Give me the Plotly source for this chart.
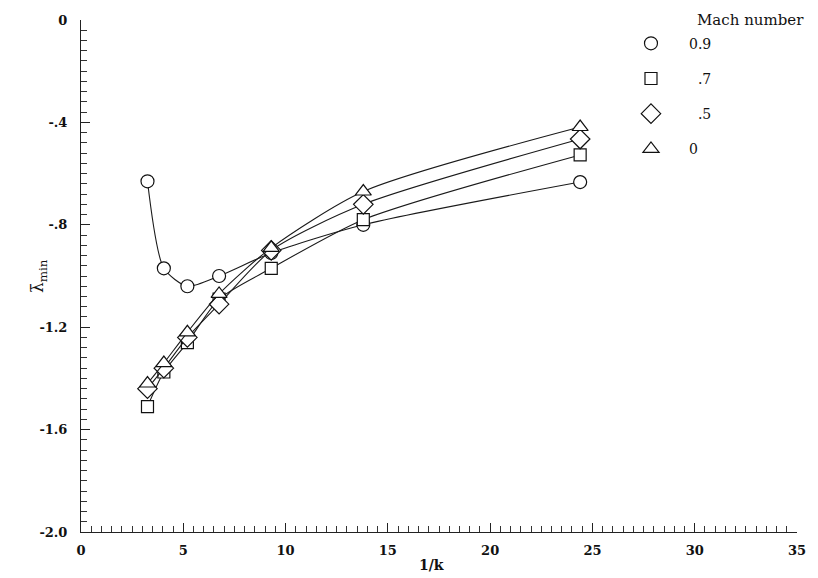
import plotly.graph_objects as go

# Reduced frequency parameter 1/k for each test point
inv_k = [3.25, 4.05, 5.2, 6.75, 9.3, 13.8, 24.4]

# Minimum eigenvalue lambda-bar_min for each Mach number
lam_m09 = [-0.63, -0.97, -1.04, -1.00, -0.91, -0.80, -0.633]
lam_m07 = [-1.51, -1.375, -1.26, -1.09, -0.97, -0.78, -0.527]
lam_m05 = [-1.44, -1.36, -1.24, -1.11, -0.90, -0.72, -0.465]
lam_m00 = [-1.42, -1.34, -1.22, -1.07, -0.89, -0.67, -0.418]

series = [
    ("0.9", lam_m09, "circle", 13),
    ("\u2007.7", lam_m07, "square", 12),
    ("\u2007.5", lam_m05, "diamond", 15),
    ("0", lam_m00, "triangle-up", 14),
]

y_tickvals = [0, -0.4, -0.8, -1.2, -1.6, -2.0]
y_ticktext = ["0", "-.4", "-.8", "-1.2", "-1.6", "-2.0"]
x_tickvals = [0, 5, 10, 15, 20, 25, 30, 35]

FONT = "DejaVu Serif"
INK = "#111111"

fig = go.Figure()
for i, (name, lam, sym, size) in enumerate(series):
    marker = dict(symbol=sym, size=size, color="white",
                  line=dict(color=INK, width=1.2))
    # faired curve through the test points
    fig.add_trace(go.Scatter(
        x=inv_k, y=lam, name=name, showlegend=False,
        mode="lines+markers",
        line=dict(color="#1a1a1a", width=1.1, shape="spline", smoothing=0.7),
        marker=marker,
    ))
    # symbol-only key entry
    fig.add_trace(go.Scatter(
        x=[None], y=[None], name=name, legendgroup=f"g{i}",
        mode="markers", marker=marker, showlegend=True,
    ))

fig.update_layout(
    width=818, height=578,
    margin=dict(l=81, r=21, t=20, b=46),
    paper_bgcolor="white", plot_bgcolor="white",
    font=dict(family=FONT, size=13, color=INK),
    showlegend=True,
    legend=dict(
        x=0.743, y=0.985, xanchor="left", yanchor="top",
        bgcolor="rgba(0,0,0,0)", tracegroupgap=14,
        traceorder="grouped",
        font=dict(family=FONT, size=14, color=INK),
        itemwidth=66,
    ),
    annotations=[
        dict(text="Mach number", xref="paper", yref="paper",
             x=0.857, y=1.0, xanchor="left", yanchor="middle",
             showarrow=False, font=dict(family=FONT, size=15, color=INK)),
        dict(text="\u03bb\u0304<sub>min</sub>", xref="paper", yref="paper",
             x=-0.06, y=0.5, xanchor="center", yanchor="middle",
             textangle=-90, showarrow=False,
             font=dict(family=FONT, size=17, color=INK)),
        dict(text="1/k", xref="paper", yref="paper",
             x=0.49, y=-0.045, xanchor="center", yanchor="top",
             showarrow=False,
             font=dict(family=FONT, size=14, color=INK, weight="bold")),
    ],
)

fig.update_xaxes(
    range=[0, 35], tickvals=x_tickvals, ticktext=[str(v) for v in x_tickvals],
    showline=True, linecolor="#222222", linewidth=1,
    ticks="inside", ticklen=9, tickcolor="#222222",
    minor=dict(dtick=0.5, ticks="inside", ticklen=6, tickcolor="#333333"),
    showgrid=False, zeroline=False,
    tickfont=dict(family=FONT, size=13, weight="bold"),
    ticklabelstandoff=6,
)
fig.update_yaxes(
    range=[-2.0, 0], tickvals=y_tickvals, ticktext=y_ticktext,
    showline=True, linecolor="#222222", linewidth=1,
    ticks="inside", ticklen=9, tickcolor="#222222",
    minor=dict(dtick=0.04, ticks="inside", ticklen=6, tickcolor="#333333"),
    showgrid=False, zeroline=False,
    tickfont=dict(family=FONT, size=13, weight="bold"),
    ticklabelstandoff=10,
)

fig.write_html("out.html")
